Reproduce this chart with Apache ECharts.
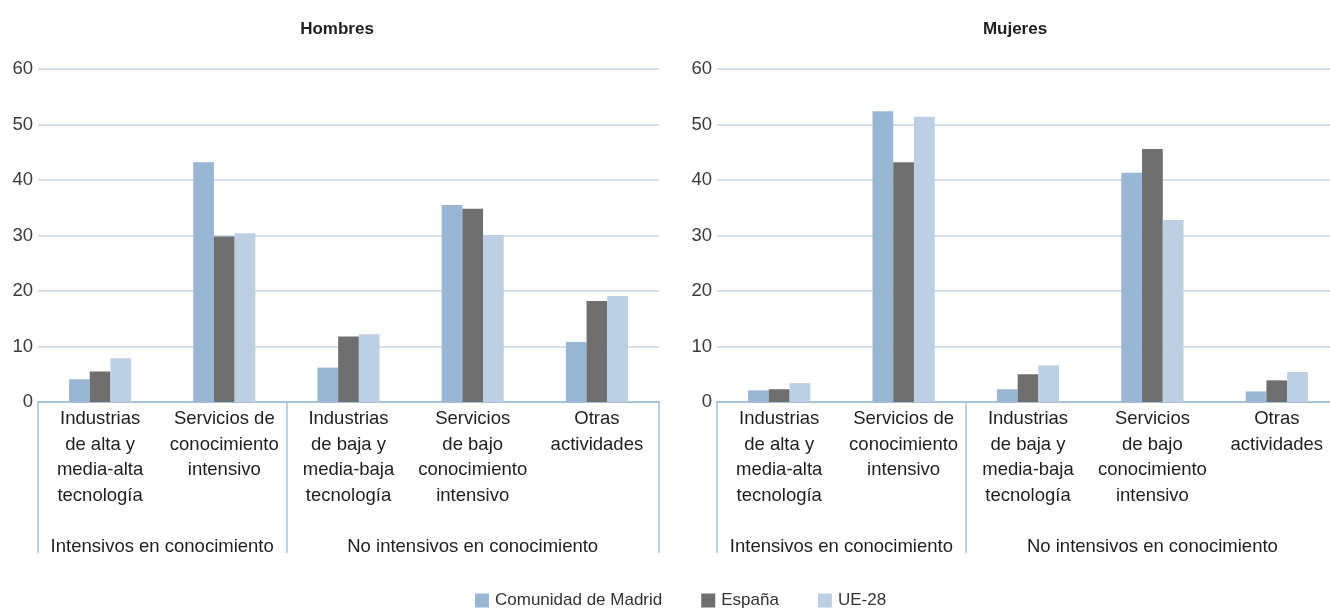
<!DOCTYPE html>
<html>
<head>
<meta charset="utf-8">
<script src="https://cdn.jsdelivr.net/npm/echarts@6/dist/echarts.min.js"></script>
<style>
html,body{margin:0;padding:0;background:#fff;overflow:hidden;width:1330px;height:609px;}
#chart{width:1340px;height:609px;}
</style>
</head>
<body>
<div id="chart"></div>
<script>
const categories = [
  'Industrias\nde alta y\nmedia-alta\ntecnología',
  'Servicios de\nconocimiento\nintensivo',
  'Industrias\nde baja y\nmedia-baja\ntecnología',
  'Servicios\nde bajo\nconocimiento\nintensivo',
  'Otras\nactividades'
];
const groupLabels = ['Intensivos en conocimiento', 'No intensivos en conocimiento'];
const groupBounds = [0, 2, 5];
const groupCenters = [1, 3.5];
const seriesNames = ['Comunidad de Madrid', 'España', 'UE-28'];
const panelTitles = ['Hombres', 'Mujeres'];

const hombresMadrid = [4.1, 43.2, 6.2, 35.5, 10.8];
const hombresEspana = [5.5, 29.8, 11.8, 34.8, 18.2];
const hombresUE = [7.9, 30.4, 12.2, 30.1, 19.1];

const mujeresMadrid = [2.1, 52.4, 2.3, 41.3, 1.9];
const mujeresEspana = [2.3, 43.2, 5.0, 45.6, 3.9];
const mujeresUE = [3.4, 51.4, 6.6, 32.8, 5.4];

const yMin = 0, yMax = 60, yInterval = 10;

const colors = ['#99b6d4', '#6f6f6f', '#bdcfe2'];
const FONT = "'Liberation Sans', Arial, sans-serif";
const axisBlue = '#a9c2dc';
const gridBlue = '#c8d7e8';

const grids = [
  {left: 38, width: 621, top: 69, bottom: 207},
  {left: 717, width: 622, top: 69, bottom: 207}
];

function catAxis(gi) {
  return {
    type: 'category', gridIndex: gi, data: categories, boundaryGap: true,
    axisLine: {show: true, lineStyle: {color: axisBlue, width: 2}},
    axisTick: {show: false},
    axisLabel: {interval: 0, margin: 4, color: '#1e1e1e', fontFamily: FONT, fontSize: 18.5, lineHeight: 25.7, align: 'center'},
    splitLine: {show: false}
  };
}
function groupAxis(gi) {
  return {
    type: 'value', gridIndex: gi, min: 0, max: categories.length, position: 'bottom',
    axisLine: {show: false},
    axisTick: {show: true, customValues: groupBounds, length: 151, lineStyle: {color: axisBlue, width: 1.5}},
    axisLabel: {show: true, customValues: groupCenters, margin: 134, color: '#1e1e1e', fontFamily: FONT, fontSize: 18.5, lineHeight: 22,
      formatter: v => groupLabels[groupCenters.indexOf(v)] || ''},
    splitLine: {show: false}
  };
}
function yAxis(gi) {
  return {
    type: 'value', gridIndex: gi, min: yMin, max: yMax, interval: yInterval,
    axisLine: {show: false}, axisTick: {show: false},
    axisLabel: {margin: 5, color: '#3a3a3a', fontFamily: FONT, fontSize: 18.5},
    splitLine: {show: true, lineStyle: {color: gridBlue, width: 1.5}}
  };
}

const panelData = [
  [hombresMadrid, hombresEspana, hombresUE],
  [mujeresMadrid, mujeresEspana, mujeresUE]
];

const series = [];
panelData.forEach((arrs, gi) => {
  arrs.forEach((d, si) => {
    series.push({
      type: 'bar', name: seriesNames[si], xAxisIndex: gi * 2, yAxisIndex: gi,
      data: d, barGap: '0%', barCategoryGap: '50%',
      itemStyle: {color: colors[si]}, silent: true
    });
  });
});

const chart = echarts.init(document.getElementById('chart'), null, {renderer: 'canvas'});
chart.setOption({
  animation: false,
  color: colors,
  title: [
    {text: panelTitles[0], left: 332, top: 16, textAlign: 'center', textStyle: {fontFamily: FONT, fontSize: 17, fontWeight: 'bold', color: '#1e1e1e'}},
    {text: panelTitles[1], left: 1010, top: 16, textAlign: 'center', textStyle: {fontFamily: FONT, fontSize: 17, fontWeight: 'bold', color: '#1e1e1e'}}
  ],
  legend: {
    data: seriesNames, left: 470, top: 587, itemWidth: 14, itemHeight: 14, itemGap: 39, icon: 'rect',
    selectedMode: false,
    textStyle: {fontFamily: FONT, fontSize: 17, color: '#333', padding: [0, 0, 0, 1]}
  },
  grid: grids,
  xAxis: [catAxis(0), groupAxis(0), catAxis(1), groupAxis(1)],
  yAxis: [yAxis(0), yAxis(1)],
  series: series
});
</script>
</body>
</html>
